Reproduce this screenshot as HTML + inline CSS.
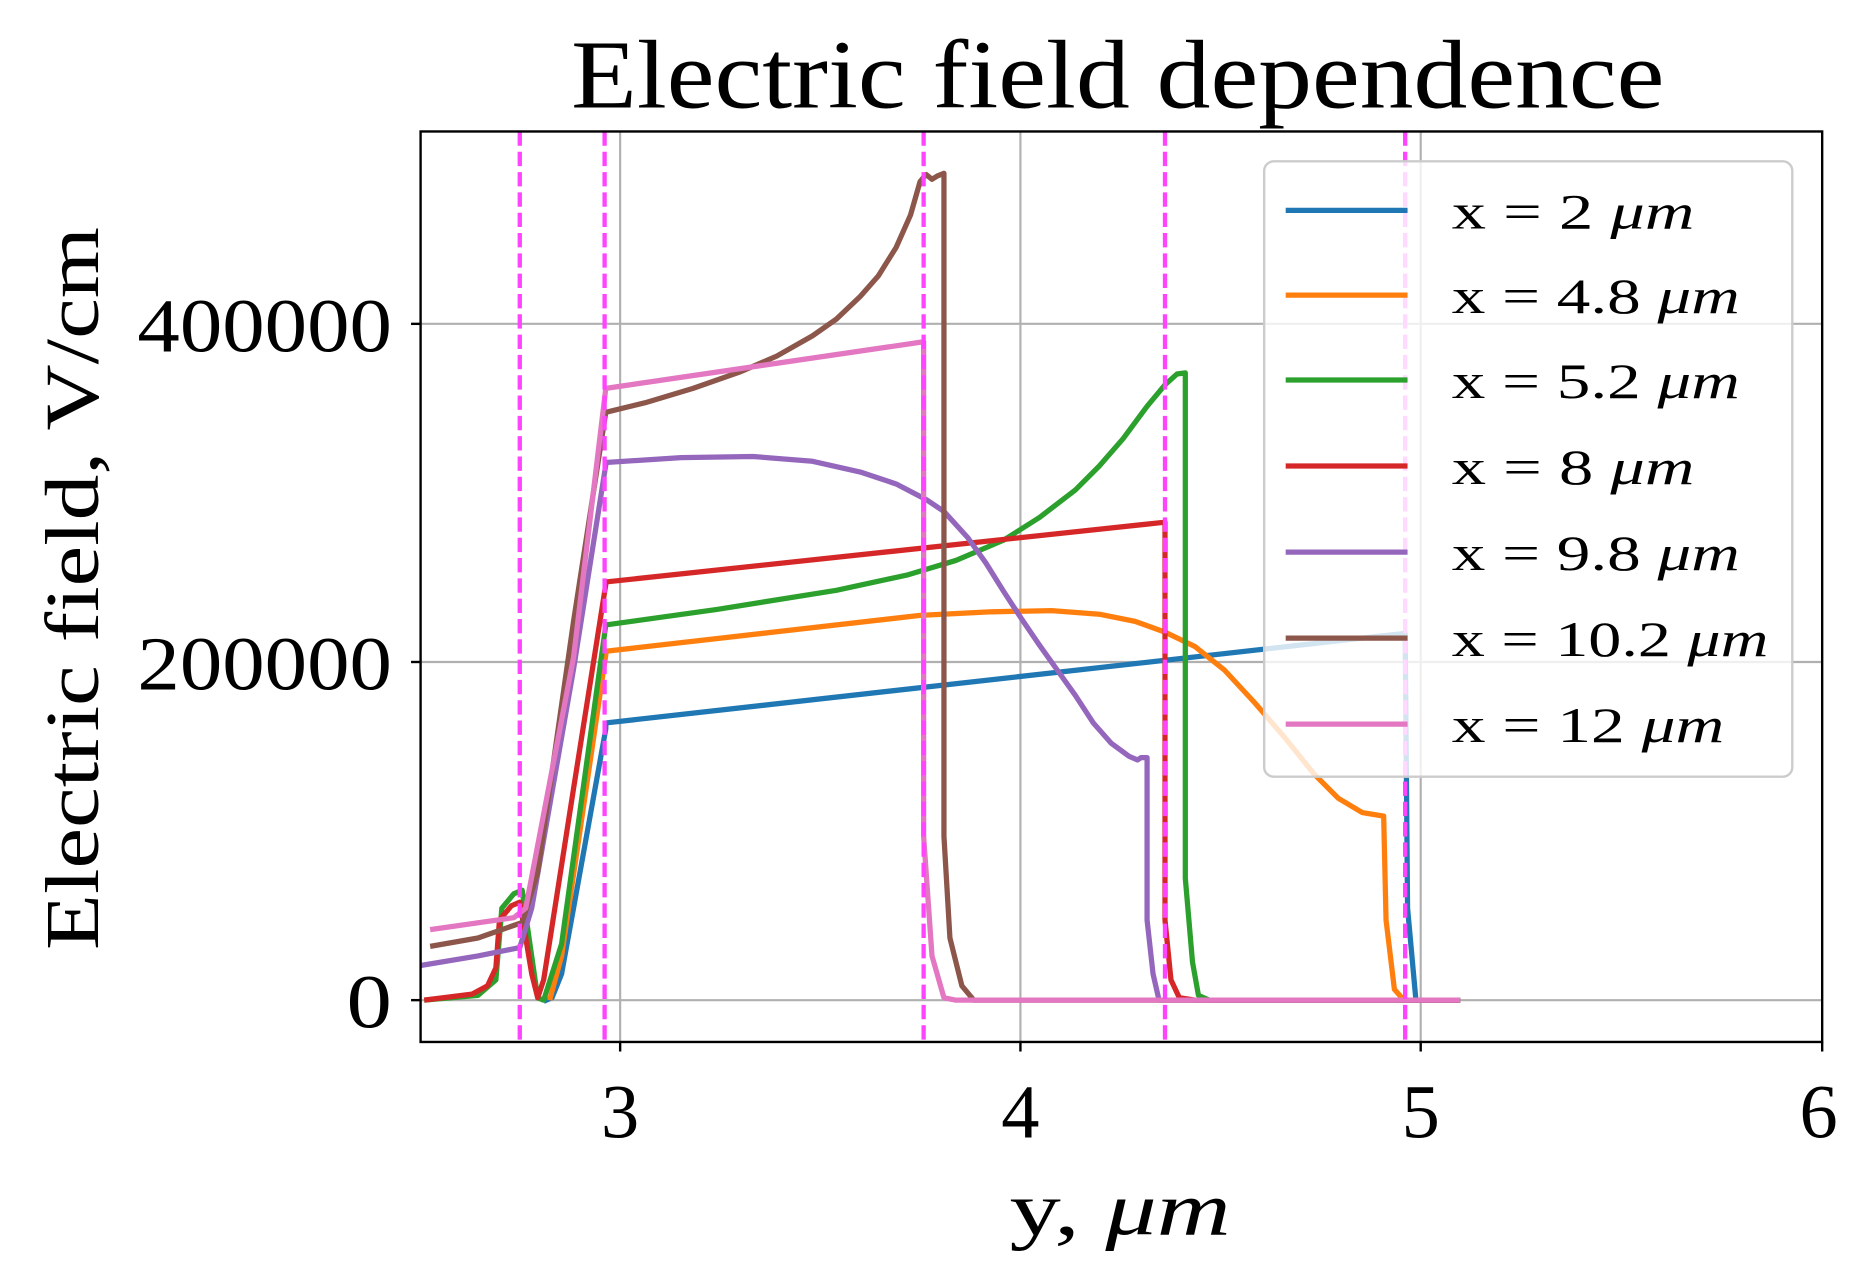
<!DOCTYPE html>
<html><head><meta charset="utf-8"><style>
html,body{margin:0;padding:0;background:#fff;}
svg{display:block;}
text{font-family:"Liberation Serif",serif;fill:#000;}
</style></head><body>
<svg width="1864" height="1275" viewBox="0 0 1560 1067" xmlns="http://www.w3.org/2000/svg">
<rect width="1560" height="1067" fill="#fff"/>
<g stroke="#b0b0b0" stroke-width="1.8">
<line x1="519" y1="110" x2="519" y2="872"/><line x1="854" y1="110" x2="854" y2="872"/><line x1="1189" y1="110" x2="1189" y2="872"/>
<line x1="352" y1="271" x2="1525" y2="271"/><line x1="352" y1="554" x2="1525" y2="554"/><line x1="352" y1="837" x2="1525" y2="837"/>
</g>
<g fill="none" stroke-width="4.4" stroke-linejoin="round">
<polyline stroke="#1f77b4" points="455,838 462,835 470,815 480,760 507,610 507,605 1176,530 1178,760 1185,837 1222,837"/>
<polyline stroke="#ff7f0e" points="460,837 470,800 507,548 507,545 770,515 830,512 880,511 920,514 950,520 975,529 1000,541 1025,561 1050,588 1075,617 1100,648 1120,668 1140,680 1158,683 1160,770 1167,828 1175,837 1222,837"/>
<polyline stroke="#2ca02c" points="355,837 400,833 415,820 420,760 430,748 437,745 450,835 455,837 470,790 507,523 600,510 700,494 760,481 800,469 840,452 870,433 900,410 920,390 940,367 960,340 975,322 985,313 992,312 992,735 998,805 1003,833 1012,837 1222,837"/>
<polyline stroke="#d62728" points="355,837 395,832 408,825 415,810 418,770 428,758 435,755 445,815 450,835 455,820 480,660 507,489 507,487 975,437 975,770 980,820 987,835 1000,837 1222,837"/>
<polyline stroke="#9467bd" points="352,808 400,800 435,793 445,760 480,560 507,389 507,387 570,383 630,382 680,386 720,395 750,405 775,418 790,428 810,450 825,471 840,495 855,518 870,540 885,561 900,582 915,605 930,622 945,633 952,636 955,634 960,634 960,770 965,815 970,837 1222,837"/>
<polyline stroke="#8c564b" points="360,792 400,785 437,772 450,730 480,520 507,345 540,337 580,325 620,311 650,298 680,281 700,267 720,248 735,231 750,207 762,180 770,152 775,146 780,150 785,147 790,145 790,700 795,785 805,825 815,837 1222,837"/>
<polyline stroke="#e377c2" points="360,778 430,768 440,760 480,550 507,325 773,286 773,700 780,800 790,835 800,837 1222,837"/>
</g>
<g stroke="#ff44ff" stroke-width="3.6" stroke-dasharray="12,5">
<line x1="435" y1="110" x2="435" y2="872"/><line x1="506" y1="110" x2="506" y2="872"/><line x1="773" y1="110" x2="773" y2="872"/><line x1="975" y1="110" x2="975" y2="872"/><line x1="1176" y1="110" x2="1176" y2="872"/>
</g>
<rect x="1058" y="135" width="442" height="515" rx="8" fill="#fff" fill-opacity="0.8" stroke="#cccccc" stroke-width="2"/>
<g stroke-width="4.4">
<line x1="1076" y1="176" x2="1178" y2="176" stroke="#1f77b4"/>
<line x1="1076" y1="247" x2="1178" y2="247" stroke="#ff7f0e"/>
<line x1="1076" y1="318" x2="1178" y2="318" stroke="#2ca02c"/>
<line x1="1076" y1="390" x2="1178" y2="390" stroke="#d62728"/>
<line x1="1076" y1="462" x2="1178" y2="462" stroke="#9467bd"/>
<line x1="1076" y1="534" x2="1178" y2="534" stroke="#8c564b"/>
<line x1="1076" y1="606" x2="1178" y2="606" stroke="#e377c2"/>
</g>
<g font-size="42">
<text x="1215" y="191" textLength="203" lengthAdjust="spacingAndGlyphs">x = 2 <tspan font-style="italic">μm</tspan></text>
<text x="1215" y="262" textLength="241" lengthAdjust="spacingAndGlyphs">x = 4.8 <tspan font-style="italic">μm</tspan></text>
<text x="1215" y="333" textLength="241" lengthAdjust="spacingAndGlyphs">x = 5.2 <tspan font-style="italic">μm</tspan></text>
<text x="1215" y="405" textLength="203" lengthAdjust="spacingAndGlyphs">x = 8 <tspan font-style="italic">μm</tspan></text>
<text x="1215" y="477" textLength="241" lengthAdjust="spacingAndGlyphs">x = 9.8 <tspan font-style="italic">μm</tspan></text>
<text x="1215" y="549" textLength="265" lengthAdjust="spacingAndGlyphs">x = 10.2 <tspan font-style="italic">μm</tspan></text>
<text x="1215" y="621" textLength="228" lengthAdjust="spacingAndGlyphs">x = 12 <tspan font-style="italic">μm</tspan></text>
</g>
<rect x="352" y="110" width="1173" height="762" fill="none" stroke="#000" stroke-width="2"/>
<g stroke="#000" stroke-width="2">
<line x1="519" y1="872" x2="519" y2="880"/><line x1="854" y1="872" x2="854" y2="880"/><line x1="1189" y1="872" x2="1189" y2="880"/><line x1="1525" y1="872" x2="1525" y2="880"/>
<line x1="344" y1="271" x2="352" y2="271"/><line x1="344" y1="554" x2="352" y2="554"/><line x1="344" y1="837" x2="352" y2="837"/>
</g>
<g font-size="64" text-anchor="middle">
<text x="519" y="952">3</text><text x="854" y="952">4</text><text x="1189" y="952">5</text><text x="1522" y="952">6</text>
</g>
<g font-size="64">
<text x="115" y="294" textLength="213" lengthAdjust="spacingAndGlyphs">400000</text>
<text x="115" y="577" textLength="213" lengthAdjust="spacingAndGlyphs">200000</text>
<text x="290" y="860" textLength="38" lengthAdjust="spacingAndGlyphs">0</text>
</g>
<text x="478" y="90" font-size="82" textLength="915" lengthAdjust="spacingAndGlyphs">Electric field dependence</text>
<text x="845" y="1033" font-size="64" textLength="185" lengthAdjust="spacingAndGlyphs">y, <tspan font-style="italic">μm</tspan></text>
<text transform="translate(82,795) rotate(-90)" font-size="64" textLength="605" lengthAdjust="spacingAndGlyphs">Electric field, V/cm</text>
</svg>
</body></html>
